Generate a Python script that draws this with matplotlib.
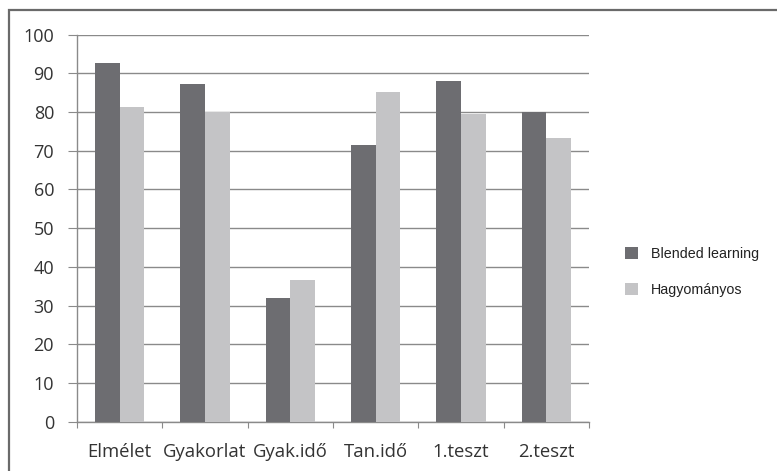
import matplotlib.pyplot as plt
import numpy as np
from matplotlib.patches import Rectangle

categories = ['Elmélet', 'Gyakorlat', 'Gyak.idő', 'Tan.idő', '1.teszt', '2.teszt']
blended = [92.6, 87.3, 31.9, 71.5, 88.1, 80.0]
hagyomanyos = [81.4, 80.0, 36.6, 85.2, 79.5, 73.4]
series_names = ['Blended learning', 'Hagyományos']
yticks = [0, 10, 20, 30, 40, 50, 60, 70, 80, 90, 100]

W, H = 777, 471
fig = plt.figure(figsize=(W / 100, H / 100), dpi=100)
fig.patch.set_facecolor('white')

# plot area in pixel coordinates
left, right, top, bottom = 77, 589, 34.7, 421.7
ax = fig.add_axes([left / W, 1 - bottom / H, (right - left) / W, (bottom - top) / H])

x = np.arange(len(categories))
bw = 0.29
ax.bar(x - bw / 2, blended, bw, color='#6d6d71', label=series_names[0], zorder=3)
ax.bar(x + bw / 2, hagyomanyos, bw, color='#c4c4c6', label=series_names[1], zorder=3)

ax.set_xlim(-0.5, len(categories) - 0.5)
ax.set_ylim(0, 100)
ax.set_yticks(yticks)
ax.set_xticks(np.arange(len(categories) + 1) - 0.5, minor=False)
ax.set_xticklabels([])
ax.set_xticks(x, minor=True)
ax.set_xticklabels(categories, minor=True)
ax.grid(axis='y', color='#8a8a8a', linewidth=1.0, zorder=0)

for s in ['top', 'right']:
    ax.spines[s].set_visible(False)
for s in ['left', 'bottom']:
    ax.spines[s].set_color('#8a8a8a')
    ax.spines[s].set_linewidth(1.0)

tick_font = 'Open Sans'
ax.tick_params(axis='y', which='major', length=6.5, color='#8a8a8a', labelsize=13,
               labelcolor='#333333', pad=10)
ax.tick_params(axis='x', which='major', length=4.5, color='#8a8a8a', direction='out')
ax.tick_params(axis='x', which='minor', length=0, labelsize=13.3, labelcolor='#333333', pad=15)
for lab in ax.get_yticklabels() + ax.get_xticklabels(minor=True):
    lab.set_fontfamily(tick_font)

leg = fig.legend(loc='upper left', bbox_to_anchor=(612 / W, 1 - 234 / H), frameon=False,
                 prop={'family': 'Liberation Sans', 'size': 10.3},
                 handlelength=0.9, handleheight=0.9, handletextpad=0.9, labelspacing=1.55)
for t in leg.get_texts():
    t.set_color('#222222')

# outer chart border
fig.patches.append(Rectangle((8.5 / W, -0.05), 1.0, 1.05 - 10 / H, transform=fig.transFigure,
                             fill=False, edgecolor='#6a6a6a', linewidth=1.6))

fig.savefig('out.png', dpi=100, facecolor='white')
